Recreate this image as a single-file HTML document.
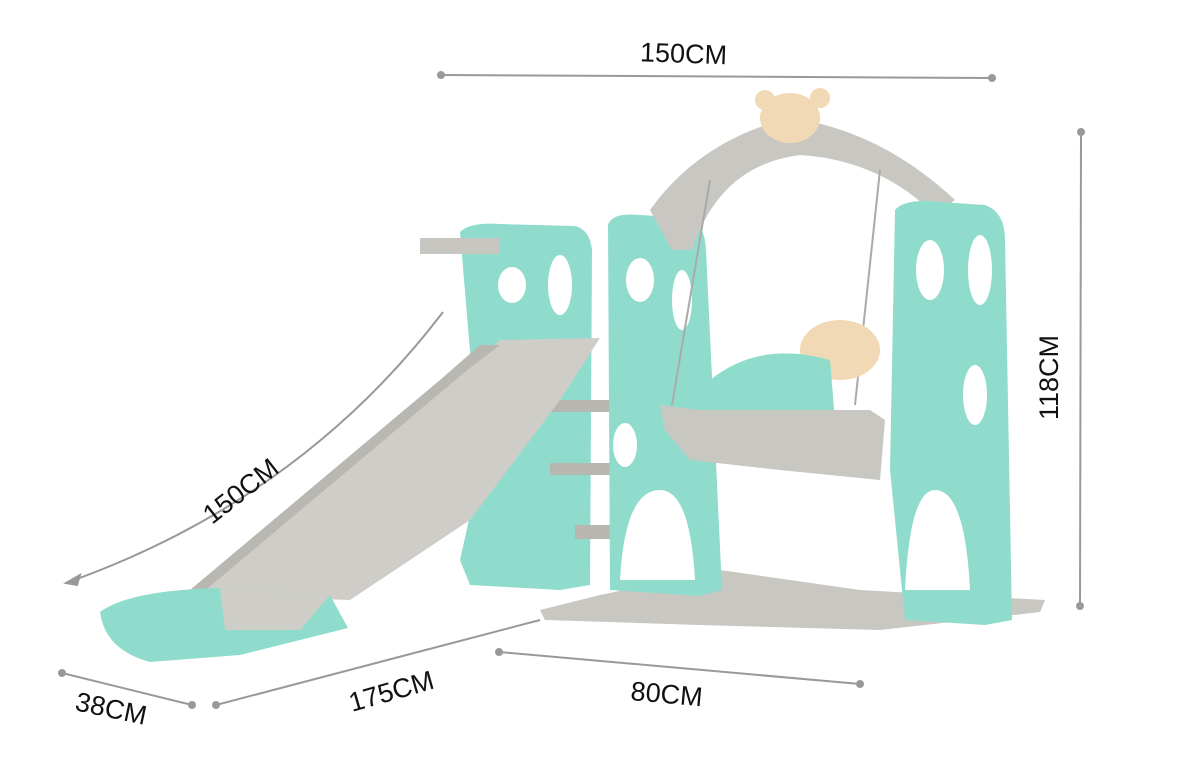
<!DOCTYPE html>
<html><head><meta charset="utf-8"><style>
html,body{margin:0;padding:0;background:#fff;}
svg{display:block}
text{font-family:"Liberation Sans",sans-serif;font-size:27px;fill:#111;}
</style></head><body>
<svg width="1180" height="772" viewBox="0 0 1180 772" xmlns="http://www.w3.org/2000/svg">
<rect width="1180" height="772" fill="#fff"/>
<g stroke="#999" stroke-width="2" fill="#999">
<line x1="441" y1="75" x2="992" y2="78"/><circle cx="441" cy="75" r="3"/><circle cx="992" cy="78" r="3"/>
<line x1="1081" y1="132" x2="1080" y2="606"/><circle cx="1081" cy="132" r="3"/><circle cx="1080" cy="606" r="3"/>
<path d="M443 312 Q300 500 66 583" fill="none"/><path d="M66 583 l14 -8 l-3 10z"/>
<line x1="62" y1="673" x2="192" y2="705"/><circle cx="62" cy="673" r="3"/><circle cx="192" cy="705" r="3"/>
<line x1="216" y1="705" x2="540" y2="620"/><circle cx="216" cy="705" r="3"/>
<line x1="499" y1="652" x2="860" y2="684"/><circle cx="499" cy="652" r="3"/><circle cx="860" cy="684" r="3"/>
</g>
<text x="640" y="63" transform="rotate(2 690 55)">150CM</text>
<text x="0" y="0" transform="translate(1058,420) rotate(-90)">118CM</text>
<text x="0" y="0" transform="translate(212,525) rotate(-38)">150CM</text>
<text x="0" y="0" transform="translate(74,710) rotate(12)">38CM</text>
<text x="0" y="0" transform="translate(352,712) rotate(-16)">175CM</text>
<text x="0" y="0" transform="translate(630,700) rotate(5)">80CM</text>
<!-- base -->
<path d="M540 610 L600 595 L720 570 L860 590 L1045 600 L1040 612 L880 630 L700 625 L545 620Z" fill="#c9c7c1"/>
<!-- left tower -->
<path d="M460 232 Q470 222 500 224 L575 226 Q590 230 592 250 L590 585 L560 590 L470 585 L460 560 L480 470 Z" fill="#8fdccd"/>
<rect x="420" y="238" width="80" height="16" fill="#c8c6c1"/>
<ellipse cx="512" cy="285" rx="14" ry="18" fill="#fff"/><ellipse cx="560" cy="285" rx="12" ry="30" fill="#fff"/>
<!-- steps -->
<rect x="550" y="400" width="60" height="12" fill="#b8b6b0"/><rect x="550" y="463" width="60" height="12" fill="#b8b6b0"/><rect x="575" y="525" width="100" height="14" fill="#b8b6b0"/>
<!-- middle tower -->
<path d="M608 225 Q612 212 640 215 L690 218 Q705 225 706 250 L722 590 L700 596 L610 590 Z" fill="#8fdccd"/>
<ellipse cx="640" cy="280" rx="14" ry="22" fill="#fff"/><ellipse cx="682" cy="300" rx="10" ry="30" fill="#fff"/><ellipse cx="625" cy="445" rx="12" ry="22" fill="#fff"/><path d="M620 580 Q625 490 660 490 Q690 490 695 580Z" fill="#fff"/>
<!-- arch -->
<path d="M650 210 Q700 140 790 118 Q880 130 955 200 L935 215 Q880 160 800 155 Q720 165 692 250 L672 250 Z" fill="#c9c7c1"/>
<ellipse cx="790" cy="118" rx="30" ry="25" fill="#f2d9b6"/><circle cx="765" cy="100" r="10" fill="#f2d9b6"/><circle cx="820" cy="98" r="10" fill="#f2d9b6"/>
<!-- right tower -->
<path d="M895 210 Q905 198 940 202 L985 205 Q1005 212 1005 240 L1012 620 L985 625 L905 620 L890 470 Z" fill="#8fdccd"/>
<ellipse cx="930" cy="270" rx="14" ry="30" fill="#fff"/><ellipse cx="980" cy="270" rx="12" ry="35" fill="#fff"/><ellipse cx="975" cy="395" rx="12" ry="30" fill="#fff"/><path d="M905 590 Q910 490 935 490 Q965 490 970 590Z" fill="#fff"/>
<!-- swing chains -->
<line x1="710" y1="180" x2="672" y2="405" stroke="#aaa" stroke-width="2"/><line x1="880" y1="170" x2="855" y2="405" stroke="#aaa" stroke-width="2"/>
<!-- swing seat -->
<ellipse cx="840" cy="350" rx="40" ry="30" fill="#f2d9b6"/>
<path d="M710 380 Q760 340 830 360 L835 420 L710 410Z" fill="#8fdccd"/>
<path d="M660 405 L700 410 L870 410 L885 420 L880 480 L780 470 L690 460 L665 430 Z" fill="#c9c7c1"/>
<!-- slide -->
<path d="M200 595 L470 368 L500 340 L600 338 L560 400 L470 520 L350 600 Z" fill="#cfcdc7"/>
<path d="M200 595 L470 368 L500 345 L480 345 L440 380 L190 590 Z" fill="#b9b7b1"/>
<path d="M100 612 Q130 590 220 588 L330 595 L348 628 L240 655 L150 662 Q105 650 100 612Z" fill="#8fdccd"/>
<path d="M220 588 L330 595 L300 630 L225 630Z" fill="#cfcdc7"/>
</svg>
</body></html>
